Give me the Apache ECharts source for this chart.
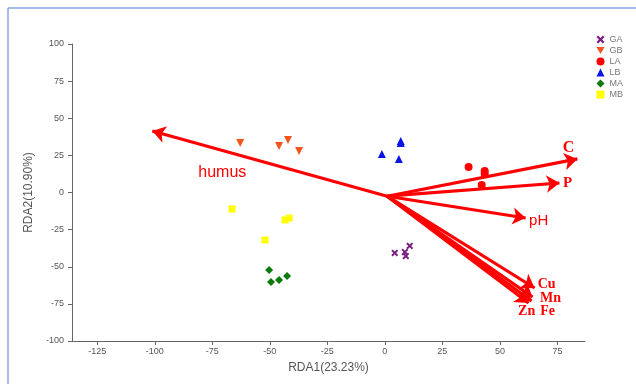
<!DOCTYPE html>
<html>
<head>
<meta charset="utf-8">
<script src="https://cdn.jsdelivr.net/npm/echarts@6/dist/echarts.min.js"></script>
<style>
  html, body { margin: 0; padding: 0; background: #fff; }
  #chart { width: 636px; height: 384px; }
</style>
</head>
<body>
<div id="chart"></div>
<script>
// sample scores [RDA1, RDA2]
const GA = [[4.3, -40.7], [8.7, -40.1], [9.1, -42.8], [10.8, -36]]
const GB = [[-62.9, 33.3], [-46.0, 31.3], [-42.1, 35.4], [-37.3, 27.9]]
const LA = [[36.4, 17.2], [43.4, 14.5], [43.4, 12.5], [42.1, 5.1]]
const LB = [[6.9, 34.7], [6.9, 33.3], [-1.3, 25.9], [6.1, 22.6]]
const MA = [[-50.3, -52.2], [-49.5, -60.3], [-46, -58.9], [-42.5, -56.2]]
const MB = [[-66.4, -11.1], [-43.4, -18.5], [-41.6, -17.2], [-52.1, -32]]

// environmental factor arrows
const arrowOrigin = [1, -2.5]
const factorNames = ['humus', 'C', 'P', 'pH', 'Cu', 'Mn', 'Fe', 'Zn']
const factorTips = [
  [-101.1, 41.4], [83.7, 22.6], [75.9, 6.4], [61.2, -17.2],
  [65.1, -64.3], [64.2, -70.4], [63.8, -73.1], [62.5, -74.4],
]

const xTicks = [-125, -100, -75, -50, -25, 0, 25, 50, 75]

// label placement relative to arrow tip
const labelStyle = {
  humus: { offset: [70, 42], serif: false, size: 16 },
  C: { offset: [-9, -11], serif: true, size: 16 },
  P: { offset: [8, 0], serif: true, size: 15 },
  pH: { offset: [13, 3], serif: false, size: 15 },
  Cu: { offset: [12, -4], serif: true, size: 14 },
  Mn: { offset: [18, 1], serif: true, size: 14 },
  Fe: { offset: [16, 10], serif: true, size: 14 },
  Zn: { offset: [-2, 8], serif: true, size: 14 },
}

const xMark = 'path://M2,0 L5,3 L8,0 L10,2 L7,5 L10,8 L8,10 L5,7 L2,10 L0,8 L3,5 L0,2 Z'
const downTri = 'path://M0,0 L10,0 L5,9 Z'

const groups = [
  { name: 'GA', data: GA, symbol: xMark, color: '#7a1e82', size: 7 },
  { name: 'GB', data: GB, symbol: downTri, color: '#f2541c', size: [8, 8] },
  { name: 'LA', data: LA, symbol: 'circle', color: '#ff0000', size: 8 },
  { name: 'LB', data: LB, symbol: 'triangle', color: '#0a14e6', size: 8 },
  { name: 'MA', data: MA, symbol: 'diamond', color: '#0a7a0a', size: 8 },
  { name: 'MB', data: MB, symbol: 'rect', color: '#ffff00', size: 7 },
]

const chart = echarts.init(document.getElementById('chart'), null, { renderer: 'canvas' })

const axisCommon = {
  axisLine: { show: true, onZero: false, lineStyle: { color: '#666', width: 1 } },
  axisTick: { show: true, inside: false, length: 4, lineStyle: { color: '#666' } },
  splitLine: { show: false },
  nameTextStyle: { fontFamily: 'Liberation Sans', fontSize: 12, color: '#555' },
}

const arrowColor = '#ff0000'

chart.setOption({
  animation: false,
  backgroundColor: '#fff',
  grid: { left: 72, right: 51, top: 44, bottom: 43, containLabel: false },
  legend: {
    orient: 'vertical',
    right: 8,
    top: 30,
    itemWidth: 8,
    itemHeight: 8,
    itemGap: 2,
    data: groups.map(g => g.name),
    textStyle: { fontFamily: 'Liberation Sans', fontSize: 9, color: '#777' },
  },
  xAxis: {
    ...axisCommon,
    type: 'value',
    min: -136,
    max: 87,
    name: 'RDA1(23.23%)',
    nameLocation: 'middle',
    nameGap: 21,
    axisTick: { ...axisCommon.axisTick, customValues: xTicks },
    axisLabel: {
      customValues: xTicks,
      margin: 6,
      fontFamily: 'Liberation Sans',
      fontSize: 9,
      color: '#555',
    },
  },
  yAxis: {
    ...axisCommon,
    type: 'value',
    min: -100,
    max: 100,
    interval: 25,
    name: 'RDA2(10.90%)',
    nameLocation: 'middle',
    nameGap: 36,
    axisLabel: { margin: 8, fontFamily: 'Liberation Sans', fontSize: 9, color: '#555' },
  },
  graphic: [
    { type: 'line', shape: { x1: 8, y1: 8, x2: 8, y2: 384 }, style: { stroke: '#8ea6e0', lineWidth: 1.5 } },
    { type: 'line', shape: { x1: 8, y1: 8, x2: 636, y2: 8 }, style: { stroke: '#8ea6e0', lineWidth: 1.5 } },
  ],
  series: [
    ...groups.map(g => ({
      name: g.name,
      type: 'scatter',
      data: g.data,
      symbol: g.symbol,
      symbolSize: g.size,
      itemStyle: { color: g.color, opacity: 1 },
      z: 3,
    })),
    {
      type: 'lines',
      coordinateSystem: 'cartesian2d',
      symbol: ['none', 'arrow'],
      symbolSize: [0, 13],
      lineStyle: { color: arrowColor, width: 3.2, opacity: 1, curveness: 0 },
      itemStyle: { color: arrowColor, opacity: 1 },
      data: factorTips.map(tip => ({ coords: [arrowOrigin, tip] })),
      z: 4,
    },
    {
      type: 'scatter',
      symbolSize: 0,
      silent: true,
      itemStyle: { opacity: 1 },
      data: factorNames.map((n, i) => {
        const st = labelStyle[n]
        return {
          value: factorTips[i],
          label: {
            show: true,
            formatter: n,
            position: 'inside',
            offset: st.offset,
            color: arrowColor,
            opacity: 1,
            fontSize: st.size,
            fontWeight: st.serif ? 'bold' : 'normal',
            fontFamily: st.serif ? 'Liberation Serif' : 'Liberation Sans',
          },
        }
      }),
      z: 5,
    },
  ],
})
</script>
</body>
</html>
